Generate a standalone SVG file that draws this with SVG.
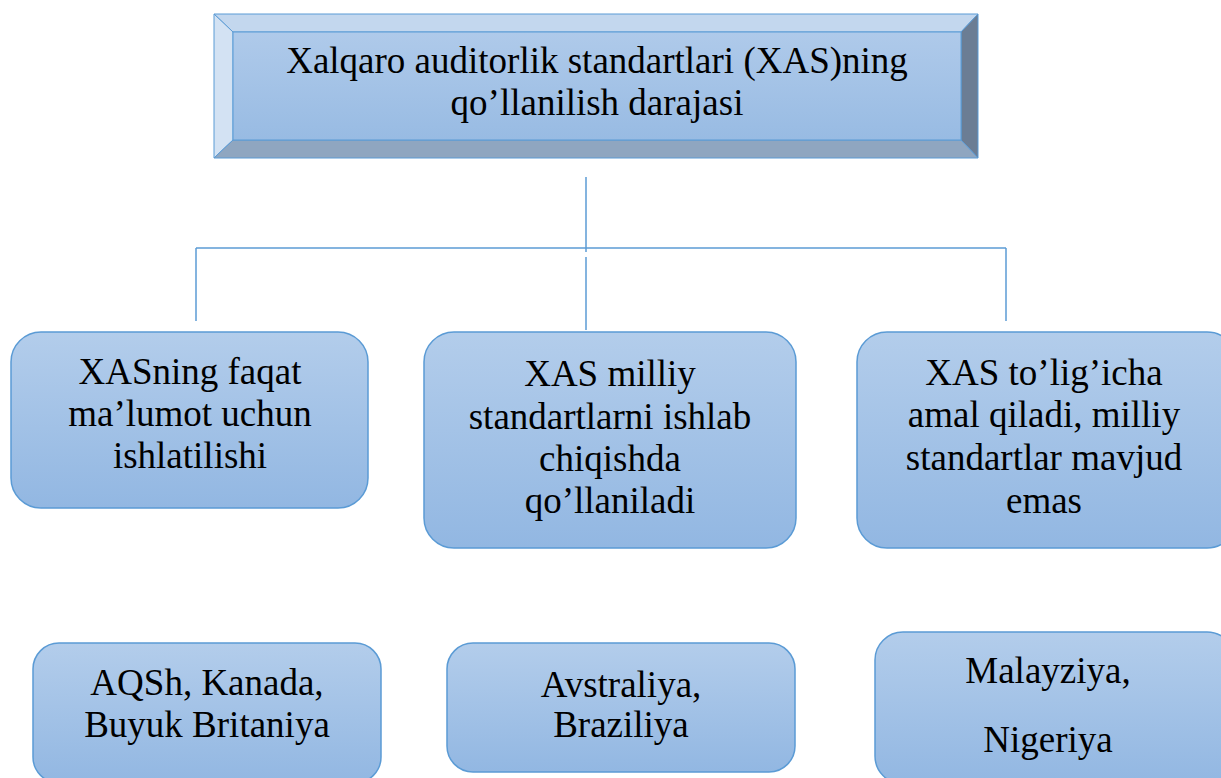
<svg xmlns="http://www.w3.org/2000/svg" width="1221" height="778" viewBox="0 0 1221 778">
<defs>
<linearGradient id="g" x1="0" y1="0" x2="0" y2="1">
<stop offset="0" stop-color="#b3cdeb"/>
<stop offset="1" stop-color="#92b7e2"/>
</linearGradient>
<linearGradient id="gi" x1="0" y1="0" x2="0" y2="1">
<stop offset="0" stop-color="#afcaea"/>
<stop offset="1" stop-color="#98bbe3"/>
</linearGradient>
<style>
.box{fill:url(#g);stroke:#5b9bd5;stroke-width:1.5}
.t{font-family:'Liberation Serif','DejaVu Serif',serif;font-size:37px;fill:#000;text-anchor:middle}
.c{stroke:#5b9bd5;stroke-width:1.5;fill:none}
.bev{stroke:#5b9bd5;stroke-width:1}
</style>
</defs>
<rect width="1221" height="778" fill="#fff"/>
<g id="connectors">
<line class="c" x1="586" y1="177" x2="586" y2="252"/>
<line class="c" x1="196" y1="248" x2="1006" y2="248"/>
<line class="c" x1="196" y1="248" x2="196" y2="321"/>
<line class="c" x1="1006" y1="248" x2="1006" y2="321"/>
<line class="c" x1="586" y1="257" x2="586" y2="330"/>
</g>
<g id="title">
<polygon class="bev" points="214,14 978,14 961,32 233,32" fill="#c3d7ee"/>
<polygon class="bev" points="214,14 233,32 233,140 214,158" fill="#d3e2f3"/>
<polygon class="bev" points="978,14 978,158 961,140 961,32" fill="#6b7d94"/>
<polygon class="bev" points="214,158 233,140 961,140 978,158" fill="#8fa6c0"/>
<rect x="233" y="32" width="728" height="108" fill="url(#gi)" class="bev"/>
<text class="t" font-family="Liberation Serif" x="597" y="73">Xalqaro auditorlik standartlari (XAS)ning</text>
<text class="t" font-family="Liberation Serif" x="597" y="115">qo’llanilish darajasi</text>
</g>
<g id="n1">
<rect class="box" x="11" y="332" width="357" height="176" rx="30"/>
<text class="t" x="190" y="384">XASning faqat</text>
<text class="t" x="190" y="426">ma’lumot uchun</text>
<text class="t" x="190" y="468">ishlatilishi</text>
</g>
<g id="n2">
<rect class="box" x="424" y="332" width="372" height="216" rx="30"/>
<text class="t" x="610" y="386">XAS milliy</text>
<text class="t" x="610" y="429">standartlarni ishlab</text>
<text class="t" x="610" y="471">chiqishda</text>
<text class="t" x="610" y="513">qo’llaniladi</text>
</g>
<g id="n3">
<rect class="box" x="857" y="332" width="380" height="216" rx="30"/>
<text class="t" x="1044" y="385">XAS to’lig’icha</text>
<text class="t" x="1044" y="427">amal qiladi, milliy</text>
<text class="t" x="1044" y="470">standartlar mavjud</text>
<text class="t" x="1044" y="513">emas</text>
</g>
<g id="n4">
<rect class="box" x="33" y="643" width="348" height="140" rx="26"/>
<text class="t" x="207" y="695">AQSh, Kanada,</text>
<text class="t" x="207" y="737">Buyuk Britaniya</text>
</g>
<g id="n5">
<rect class="box" x="447" y="643" width="348" height="129" rx="26"/>
<text class="t" x="621" y="697">Avstraliya,</text>
<text class="t" x="621" y="737">Braziliya</text>
</g>
<g id="n6">
<rect class="box" x="875" y="632" width="360" height="152" rx="28"/>
<text class="t" x="1048" y="683">Malayziya,</text>
<text class="t" x="1048" y="752">Nigeriya</text>
</g>
</svg>
